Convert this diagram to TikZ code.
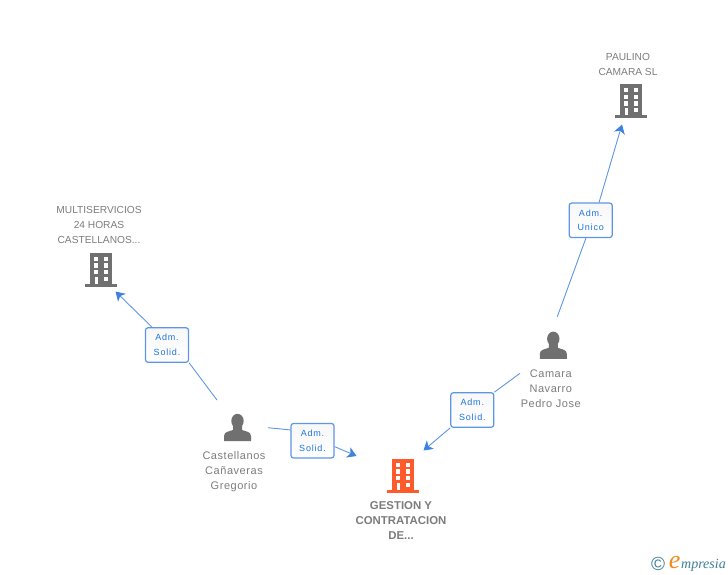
\documentclass[tikz,border=0pt]{standalone}
\usepackage{fontspec}
\setmainfont{Liberation Sans}
\newfontfamily\lowerfont[LetterSpace=5]{Liberation Sans}
\newfontfamily\cargofont[LetterSpace=9]{Liberation Sans}
\newfontfamily\logofont{Liberation Serif}
\usetikzlibrary{positioning,arrows.meta}
\definecolor{icongray}{HTML}{707070}
\definecolor{textgray}{HTML}{7C7C7C}
\definecolor{iconred}{HTML}{FF5A2C}
\definecolor{linkblue}{HTML}{5E96E6}
\definecolor{tipblue}{HTML}{3F83E0}
\definecolor{cargoblue}{HTML}{1F74E0}
\definecolor{logoteal}{HTML}{3E7F96}
\definecolor{logoorange}{HTML}{F08A1D}
\tikzset{
    pics/building/.style={code={
        \fill[#1] (-11,-17) rectangle (11,14);
        \fill[#1] (-16,14) rectangle (16,17);
        \foreach \wy in {-13.3,-6.7,0} {
            \fill[white] (-7,\wy) rectangle (-2.7,\wy+4.3);
            \fill[white] (2.5,\wy) rectangle (7,\wy+4.3);
        }
        \fill[white] (-6.5,6.7) rectangle (-2.7,14);
        \fill[white] (2.5,6.7) rectangle (7,11);
    }},
    pics/person/.style={code={
        \fill[#1] (0,-6.5) ellipse (6.2 and 7.2);
        \fill[#1] (-13.5,13.5) -- (-13.5,8.5) .. controls (-13.5,4) and (-8,4) .. (-4.5,2.5)
            -- (-4.5,-2) -- (4.5,-2) -- (4.5,2.5) .. controls (8,4) and (13.5,4) .. (13.5,8.5) -- (13.5,13.5) -- cycle;
    }}
}
\begin{document}
\begin{tikzpicture}[x=1pt,y=-1pt]
\tikzstyle{nametext} = [align=center, text=textgray, inner sep=0pt, font=\fontsize{10.2}{15}\selectfont]
\tikzstyle{persontext} = [nametext, font=\lowerfont\fontsize{11}{15}\selectfont]
\tikzstyle{cargo} = [draw=linkblue, line width=1.2pt, rounded corners=2.5pt, minimum width=43pt, minimum height=34.5pt,
    inner sep=0pt, align=center, text=cargoblue, top color=black!3, bottom color=white, font=\cargofont\fontsize{9}{14.5}\selectfont]
\tikzstyle{link} = [draw=linkblue, line width=0.9pt]
\tikzstyle{linkend} = [link, -{Stealth[length=9pt,width=11pt,inset=2.5pt,color=tipblue]}]

\useasboundingbox (0,0) rectangle (728,575);

\path (101,270) coordinate (multi) pic {building=icongray};
\path (631,101.5) coordinate (paulino) pic {building=icongray};
\path (403,476) coordinate (gestion) pic {building=iconred};
\path (237.5,427.5) coordinate (castellanos) pic {person=icongray};
\path (553.3,345.3) coordinate (camara) pic {person=icongray};

\node[nametext, above=26pt of multi, xshift=-2pt] (multitext) {MULTISERVICIOS\\24 HORAS\\CASTELLANOS...};
\node[nametext, above=26pt of paulino, xshift=-3pt] (paulinotext) {PAULINO\\CAMARA SL};
\node[nametext, below=25.5pt of gestion, xshift=-2pt, font=\bfseries\fontsize{11.4}{15}\selectfont] (gestiontext) {GESTION Y\\CONTRATACION\\DE...};
\node[persontext, below=23.5pt of castellanos, xshift=-3.5pt] (castellanostext) {Castellanos\\Cañaveras\\Gregorio};
\node[persontext, below=24.5pt of camara, xshift=-2.5pt] (camaratext) {Camara\\Navarro\\Pedro Jose};

\node[cargo] (cargoa) at (167,345) {Adm.\\Solid.};
\node[cargo] (cargob) at (312.5,440.7) {Adm.\\Solid.};
\node[cargo] (cargoc) at (472.3,410) {Adm.\\Solid.};
\node[cargo] (cargod) at (590.7,220.3) {Adm.\\Unico};

\coordinate (starta) at (217,400);
\coordinate (enda) at (115.5,291.5);
\coordinate (startb) at (268,427.7);
\coordinate (endb) at (356.5,456);
\coordinate (startc) at (520,373.3);
\coordinate (endc) at (423.5,450.5);
\coordinate (startd) at (557.3,316.7);
\coordinate (endd) at (622,124.5);

\draw[link] (starta) -- (cargoa.south east);
\draw[linkend] (cargoa.130) -- (enda);
\draw[link] (startb) -- (cargob.154);
\draw[linkend] (cargob.-15) -- (endb);
\draw[link] (startc) -- (cargoc.north east);
\draw[linkend] (cargoc.south west) -- (endc);
\draw[link] (startd) -- (cargod.-105);
\draw[linkend] (cargod.65) -- (endd);

\node[inner sep=0pt, text=logoteal, font=\fontsize{19}{19}\selectfont] (logomark) at (658,564) {\textcopyright};
\node[inner sep=0pt, anchor=base west, font=\logofont\itshape\fontsize{14}{14}\selectfont, text=logoteal] (logotext) at (681,568)
    {mpresia};
\node[inner sep=0pt, anchor=base east, xshift=-0.5pt, font=\logofont\itshape\fontsize{26}{26}\selectfont, text=logoorange] (logoe) at (logotext.base west) {e};
\end{tikzpicture}
\end{document}
